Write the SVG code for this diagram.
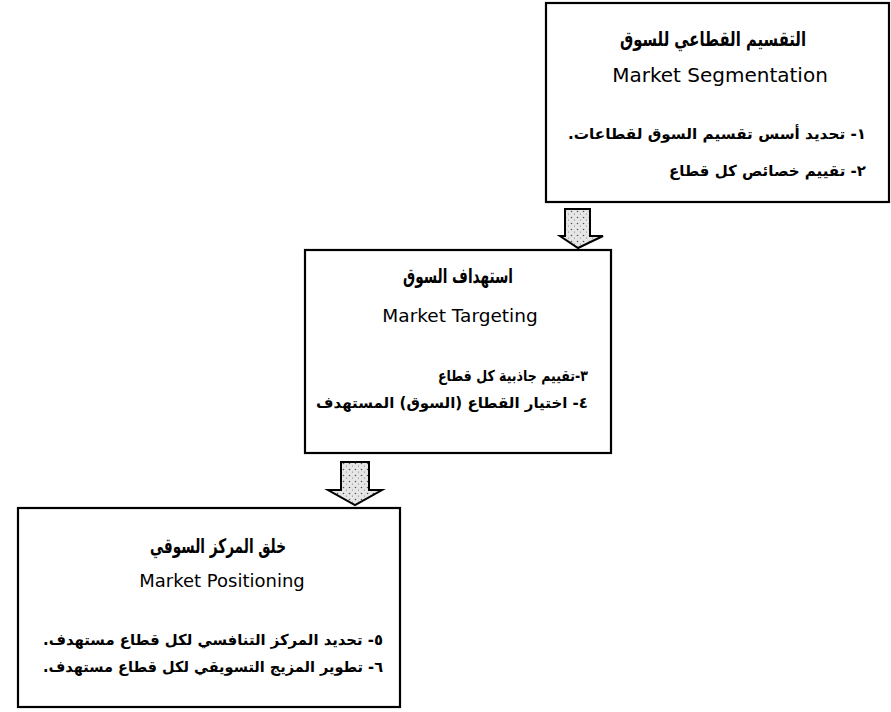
<svg xmlns="http://www.w3.org/2000/svg" width="891" height="712" viewBox="0 0 891 712">
  <defs>
    <!-- stippled grey fill used inside the block arrows -->
    <pattern id="stipple" width="6" height="6" patternUnits="userSpaceOnUse">
      <rect width="6" height="6" fill="#e6e6e6"/>
      <circle cx="1.5" cy="1.5" r="0.8" fill="#555"/>
      <circle cx="4.5" cy="4" r="0.6" fill="#777"/>
    </pattern>
    <style>
      .box { fill: #ffffff; stroke: #000000; stroke-width: 2.2; }
      .title-ar { font-family: "DejaVu Sans", sans-serif; font-weight: bold; font-size: 20px; fill: #000; text-anchor: middle; }
      .title-en { font-family: "DejaVu Sans", sans-serif; font-size: 20px; fill: #000; text-anchor: middle; }
      .item { font-family: "DejaVu Sans", sans-serif; font-weight: bold; font-size: 15px; fill: #000; direction: rtl; unicode-bidi: embed; text-anchor: start; }
      .arrow { fill: url(#stipple); stroke: #000; stroke-width: 2; stroke-linejoin: miter; }
    </style>
  </defs>

  <rect width="891" height="712" fill="#ffffff"/>

  <!-- connectors: block arrows between the stages -->
  <g id="connectors">
    <path class="arrow" d="M565 209 L590 209 L590 236 L603 236 L578 248 L560 236 L565 236 Z"/>
    <path class="arrow" d="M341 462 L369 462 L369 490 L382 490 L355 505 L328 490 L341 490 Z"/>
  </g>

  <!-- stage 1 -->
  <g id="segmentation">
    <rect class="box" x="546" y="3" width="343" height="199"/>
    <text class="title-ar" x="713" y="46" textLength="186" lengthAdjust="spacingAndGlyphs">التقسيم القطاعي للسوق</text>
    <text class="title-en" x="720" y="82">Market Segmentation</text>
    <text class="item" x="866" y="139" textLength="298" lengthAdjust="spacingAndGlyphs">١- تحديد أسس تقسيم السوق لقطاعات.</text>
    <text class="item" x="866" y="176" textLength="197" lengthAdjust="spacingAndGlyphs">٢- تقييم خصائص كل قطاع</text>
  </g>

  <!-- stage 2 -->
  <g id="targeting">
    <rect class="box" x="305" y="250" width="306" height="203"/>
    <text class="title-ar" x="458" y="283" textLength="110" lengthAdjust="spacingAndGlyphs">استهداف السوق</text>
    <text class="title-en" x="460" y="322" style="font-size:18.5px">Market Targeting</text>
    <text class="item" x="588" y="381" textLength="150" lengthAdjust="spacingAndGlyphs">٣-تقييم جاذبية كل قطاع</text>
    <text class="item" x="588" y="408" textLength="272" lengthAdjust="spacingAndGlyphs">٤- اختيار القطاع (السوق) المستهدف</text>
  </g>

  <!-- stage 3 -->
  <g id="positioning">
    <rect class="box" x="18" y="508" width="382" height="199"/>
    <text class="title-ar" x="218" y="553" textLength="136" lengthAdjust="spacingAndGlyphs">خلق المركز السوقي</text>
    <text class="title-en" x="222" y="587" style="font-size:18px">Market Positioning</text>
    <text class="item" x="383" y="645" textLength="340" lengthAdjust="spacingAndGlyphs">٥- تحديد المركز التنافسي لكل قطاع مستهدف.</text>
    <text class="item" x="383" y="672" textLength="340" lengthAdjust="spacingAndGlyphs">٦- تطوير المزيج التسويقي لكل قطاع مستهدف.</text>
  </g>
</svg>
